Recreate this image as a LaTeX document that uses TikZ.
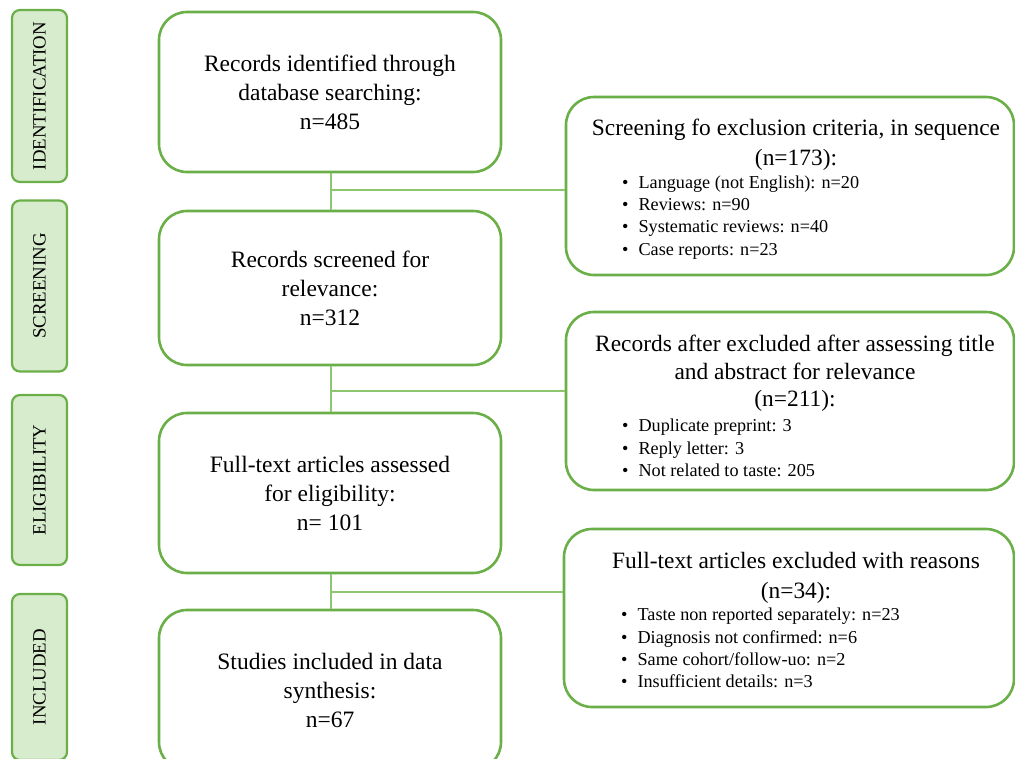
\documentclass[tikz,border=0pt]{standalone}
\usepackage{fontspec}
\setmainfont{Liberation Serif}
\definecolor{bord}{HTML}{6AAF47}
\definecolor{stagefill}{HTML}{D7EBCD}
\definecolor{linkc}{HTML}{8CC66E}
\tikzset{
  stagebox/.style={draw=bord, fill=stagefill, line width=2.2pt, rounded corners=8pt,
    minimum height=55pt, rotate=90, inner sep=0pt, font=\fontsize{18.8}{20}\selectfont},
  mainbox/.style={draw=bord, line width=2.6pt, rounded corners=28pt, minimum width=342pt,
    align=center, inner sep=0pt, font=\fontsize{23.5}{29}\selectfont},
  sidebox/.style={draw=bord, line width=2.6pt, rounded corners=28pt, minimum width=448pt,
    minimum height=178pt, inner sep=0pt},
  sidetitle/.style={align=center, inner sep=0pt, font=\fontsize{23.4}{30}\selectfont},
  bullets/.style={align=left, inner sep=0pt, anchor=west, font=\fontsize{18.2}{22.2}\selectfont},
  link/.style={draw=linkc, line width=1.3pt},
}
\newcommand{\bitem}{\textbullet\hspace{10pt}}
\begin{document}
\begin{tikzpicture}[x=1pt,y=-1pt]
\clip (0,0) rectangle (1015,758);
% stage labels
\node[stagebox, minimum width=172pt] (sI) at (39.5,96) {IDENTIFICATION};
\node[stagebox, minimum width=171pt] (sS) at (39.5,286) {SCREENING};
\node[stagebox, minimum width=170pt] (sE) at (39.5,480) {ELIGIBILITY};
\node[stagebox, minimum width=166pt] (sN) at (39.5,677) {INCLUDED};
% main boxes
\node[mainbox, minimum height=160pt] (b1) at (330,92) {Records identified through\\database searching:\\n=485};
\node[mainbox, minimum height=154pt] (b2) at (330,288) {Records screened for\\relevance:\\n=312};
\node[mainbox, minimum height=160pt] (b3) at (330,493) {Full-text articles assessed\\for eligibility:\\n= 101};
\node[mainbox, minimum height=160pt] (b4) at (330,690) {Studies included in data\\synthesis:\\n=67};
% side boxes
\node[sidebox] (r1) at (790,186) {};
\node[sidetitle] (r1t) at (796,145) {Screening fo exclusion criteria, in sequence\\(n=173):};
\node[bullets] (r1b) at (622,217.5) {\bitem Language (not English): n=20\\\bitem Reviews: n=90\\\bitem Systematic reviews: n=40\\\bitem Case reports: n=23};
\node[sidebox] (r2) at (790,401) {};
\node[sidetitle, font=\fontsize{23.4}{27.5}\selectfont] (r2t) at (795,373.5) {Records after excluded after assessing title\\and abstract for relevance\\(n=211):};
\node[bullets] (r2b) at (622,448) {\bitem Duplicate preprint: 3\\\bitem Reply letter: 3\\\bitem Not related to taste: 205};
\node[sidebox, minimum width=450pt] (r3) at (789,618) {};
\node[sidetitle] (r3t) at (796,577.5) {Full-text articles excluded with reasons\\(n=34):};
\node[bullets] (r3b) at (621,648) {\bitem Taste non reported separately: n=23\\\bitem Diagnosis not confirmed: n=6\\\bitem Same cohort/follow-uo: n=2\\\bitem Insufficient details: n=3};
% connectors
\coordinate (j1) at (331,190);
\coordinate (j2) at (331,391);
\coordinate (j3) at (331,592);
\draw[link] (b1.south -| j1) -- (b2.north -| j1);
\draw[link] (b2.south -| j2) -- (b3.north -| j2);
\draw[link] (b3.south -| j3) -- (b4.north -| j3);
\draw[link] (j1) -- (j1 -| r1.west);
\draw[link] (j2) -- (j2 -| r2.west);
\draw[link] (j3) -- (j3 -| r3.west);
\end{tikzpicture}
\end{document}
